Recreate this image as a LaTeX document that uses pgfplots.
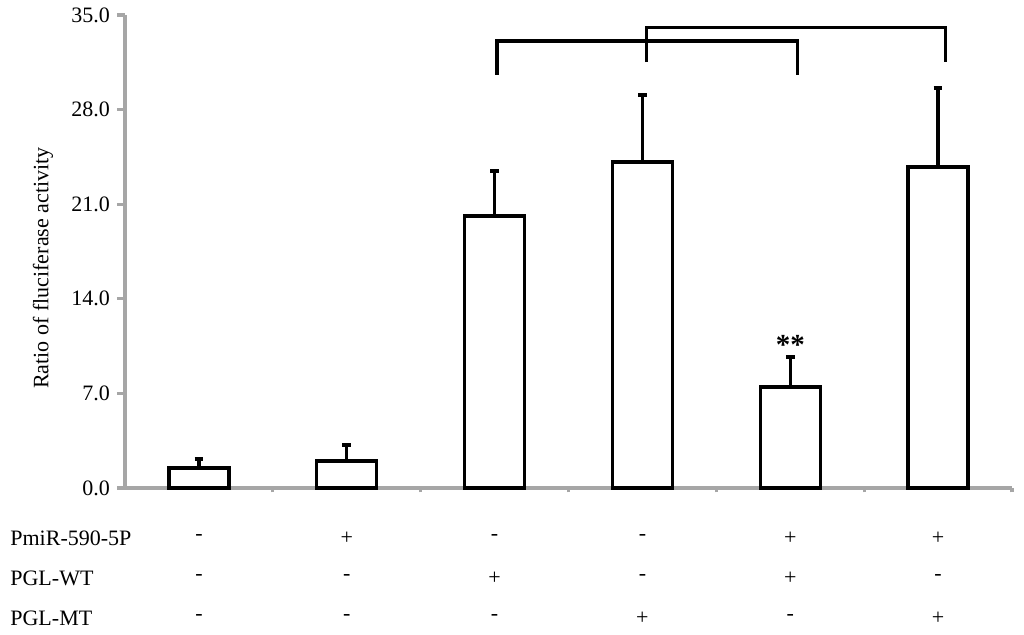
\documentclass[border=0pt]{standalone}
\usepackage{pgfplots}
\pgfplotsset{compat=1.18}
\usepackage{pgfplotstable}
\usepackage{fontspec}
\setmainfont{Liberation Serif}

\definecolor{axisgray}{RGB}{166,166,166}
\newcommand{\lblfont}{\fontsize{11}{13}\selectfont}

\pgfplotstableread{
x y err
1 1.48 0.67
2 2.00 1.18
3 20.13 3.33
4 24.12 4.96
5 7.47 2.22
6 23.75 5.85
}\ratios

\begin{document}
\begin{tikzpicture}
\path[use as bounding box] (-62.5pt,-73.5pt) rectangle (449.5pt,244pt);
\begin{axis}[
    scale only axis,
    width=443.5pt, height=236.5pt,
    xmin=0.5, xmax=6.5,
    ymin=0, ymax=35,
    ytick={0,7,...,35},
    xtick={1.5,2.5,...,6.5},
    xticklabels={},
    axis lines*=left,
    axis line style={-, axisgray, line width=1.6pt},
    tick style={axisgray, line width=1.6pt},
    tick align=outside,
    major tick length=4pt,
    xtick style={/pgfplots/major tick length=2.2pt},
    yticklabel style={font=\lblfont, /pgf/number format/.cd, fixed, fixed zerofill, precision=1, assume math mode=true},
    ylabel={Ratio of fluciferase activity},
    ylabel style={font=\lblfont, at={(axis description cs:-0.0925,0.465)}, anchor=center},
    clip=false,
]
\addplot[ybar, bar width=30pt, fill=white, draw=black, line width=1.7pt,
    error bars/.cd, y dir=plus, y explicit,
    error bar style={line width=1.7pt, black},
    error mark options={rotate=90, mark size=2.2pt, line width=2pt, black}]
  table[x=x, y=y, y error=err] {\ratios};

% significance brackets
\draw[line width=1.6pt] (axis cs:3.017,30.56) -- (axis cs:3.017,33.08) -- (axis cs:5.047,33.08) -- (axis cs:5.047,30.56);
\draw[line width=1.6pt] (axis cs:4.03,31.52) -- (axis cs:4.03,34.1) -- (axis cs:6.048,34.1) -- (axis cs:6.048,31.52);
\node[font=\fontsize{14.5}{16}\selectfont\bfseries] at (axis cs:5,10.6) {**};

% treatment table
\node[anchor=west, font=\lblfont, inner sep=0pt] at (axis cs:-0.278,-3.70) {PmiR-590-5P};
\node[anchor=west, font=\lblfont, inner sep=0pt] at (axis cs:-0.278,-6.66) {PGL-WT};
\node[anchor=west, font=\lblfont, inner sep=0pt] at (axis cs:-0.278,-9.62) {PGL-MT};

\node[font=\lblfont] at (axis cs:1,-3.70) {-};
\node[font=\lblfont] at (axis cs:2,-3.70) {+};
\node[font=\lblfont] at (axis cs:3,-3.70) {-};
\node[font=\lblfont] at (axis cs:4,-3.70) {-};
\node[font=\lblfont] at (axis cs:5,-3.70) {+};
\node[font=\lblfont] at (axis cs:6,-3.70) {+};

\node[font=\lblfont] at (axis cs:1,-6.66) {-};
\node[font=\lblfont] at (axis cs:2,-6.66) {-};
\node[font=\lblfont] at (axis cs:3,-6.66) {+};
\node[font=\lblfont] at (axis cs:4,-6.66) {-};
\node[font=\lblfont] at (axis cs:5,-6.66) {+};
\node[font=\lblfont] at (axis cs:6,-6.66) {-};

\node[font=\lblfont] at (axis cs:1,-9.62) {-};
\node[font=\lblfont] at (axis cs:2,-9.62) {-};
\node[font=\lblfont] at (axis cs:3,-9.62) {-};
\node[font=\lblfont] at (axis cs:4,-9.62) {+};
\node[font=\lblfont] at (axis cs:5,-9.62) {-};
\node[font=\lblfont] at (axis cs:6,-9.62) {+};
\end{axis}
\end{tikzpicture}
\end{document}
